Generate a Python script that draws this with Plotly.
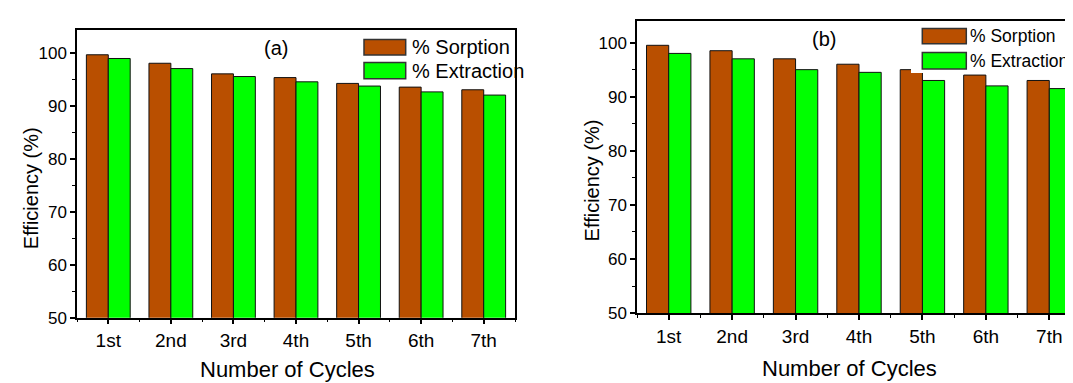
import plotly.graph_objects as go

cycles = ["1st", "2nd", "3rd", "4th", "5th", "6th", "7th"]
sorption_a = [99.6, 98.0, 96.0, 95.3, 94.2, 93.5, 93.0]
extraction_a = [98.9, 97.0, 95.5, 94.5, 93.7, 92.6, 92.0]
sorption_b = [99.5, 98.5, 97.0, 96.0, 95.0, 94.0, 93.0]
extraction_b = [98.0, 97.0, 95.0, 94.5, 93.0, 92.0, 91.5]
yticks = [50, 60, 70, 80, 90, 100]

W, H = 1073, 383
BROWN = "#B94F00"
GREEN = "#00FF00"
FONT = "Liberation Sans, Arial, sans-serif"

def px(x):
    return x / W

def py(y):
    return 1 - y / H

xpos = list(range(len(cycles)))

fig = go.Figure()
for i, (s, e) in enumerate([(sorption_a, extraction_a), (sorption_b, extraction_b)]):
    xa = "x" if i == 0 else "x2"
    ya = "y" if i == 0 else "y2"
    fig.add_trace(go.Bar(x=xpos, y=s, name="% Sorption", marker=dict(color=BROWN, line=dict(color="#111", width=1)),
                         xaxis=xa, yaxis=ya, showlegend=False))
    fig.add_trace(go.Bar(x=xpos, y=e, name="% Extraction", marker=dict(color=GREEN, line=dict(color="#111", width=1)),
                         xaxis=xa, yaxis=ya, showlegend=False))

def xaxis(domain, mirror=True):
    return dict(domain=domain, range=[-0.5, 6.5], tickvals=xpos, ticktext=cycles,
                ticks="outside", ticklen=5, tickwidth=1.5, tickcolor="black",
                minor=dict(tickvals=[k + 0.5 for k in range(-1, 7)], ticks="outside", ticklen=3, tickwidth=1.2, tickcolor="black"),
                showline=True, linecolor="black", linewidth=1.5, mirror=mirror,
                showgrid=False, zeroline=False, fixedrange=True,
                tickfont=dict(family=FONT, size=19, color="black"))

def yaxis(domain, rng, mirror=True):
    return dict(domain=domain, range=rng, tickvals=yticks,
                ticks="outside", ticklen=5, tickwidth=1.5, tickcolor="black",
                minor=dict(dtick=5, tick0=50, ticks="outside", ticklen=3, tickwidth=1.2, tickcolor="black"),
                showline=True, linecolor="black", linewidth=1.5, mirror=mirror,
                showgrid=False, zeroline=False, fixedrange=True,
                tickfont=dict(family=FONT, size=17, color="black"))

fig.update_layout(
    width=W, height=H,
    margin=dict(l=0, r=0, t=0, b=0),
    paper_bgcolor="white", plot_bgcolor="white",
    barmode="group", bargap=0.3, bargroupgap=0,
    xaxis=dict(xaxis([px(69), px(507)]), anchor="y"),
    yaxis=dict(yaxis([py(318), py(23)], [50, 104.2]), anchor="x"),
    xaxis2=dict(xaxis([px(629), 1.0]), anchor="y2"),
    yaxis2=dict(yaxis([py(313.3), py(13.3)], [50, 104.0], mirror=False), anchor="x2"),
    showlegend=False,
)

annotations = []
shapes = []

def text(x, y, s, size, angle=0, xanchor="center"):
    annotations.append(dict(x=px(x), y=py(y), xref="paper", yref="paper", text=s, showarrow=False,
                            xanchor=xanchor, yanchor="middle", textangle=angle, borderpad=0,
                            font=dict(family=FONT, size=size, color="black")))

# axis titles
text(279, 371, "Number of Cycles", 22)
text(841, 370, "Number of Cycles", 22)
text(23, 185, "Efficiency (%)", 20, angle=-90)
text(584, 177, "Efficiency (%)", 20, angle=-90)

# panel labels
text(267.5, 41, "(a)", 20)
text(815.7, 31.5, "(b)", 20)

# legend background box of panel (b) (overlaps the 5th bar in the reference)
shapes.append(dict(type="rect", xref="paper", yref="paper", x0=px(903), x1=1.0, y0=py(66.7), y1=py(15),
                   fillcolor="white", line=dict(width=0), layer="above"))

# legends
legends = [
    (356, 397.7, [(32.3, 48.3), (56, 72.7)], 402.7, 20),
    (914.3, 958.3, [(21, 36.7), (45.7, 62.7)], 961, 17.5),
]
for x0, x1, rows, tx, fs in legends:
    for (y0, y1), col, lab in zip(rows, [BROWN, GREEN], ["% Sorption", "% Extraction"]):
        shapes.append(dict(type="rect", xref="paper", yref="paper", x0=px(x0), x1=px(x1), y0=py(y1), y1=py(y0),
                           fillcolor=col, line=dict(color="#333", width=1.5), layer="above"))
        text(tx, (y0 + y1) / 2, lab, fs, xanchor="left")

fig.update_layout(annotations=annotations, shapes=shapes)
fig.write_html("out.html")
